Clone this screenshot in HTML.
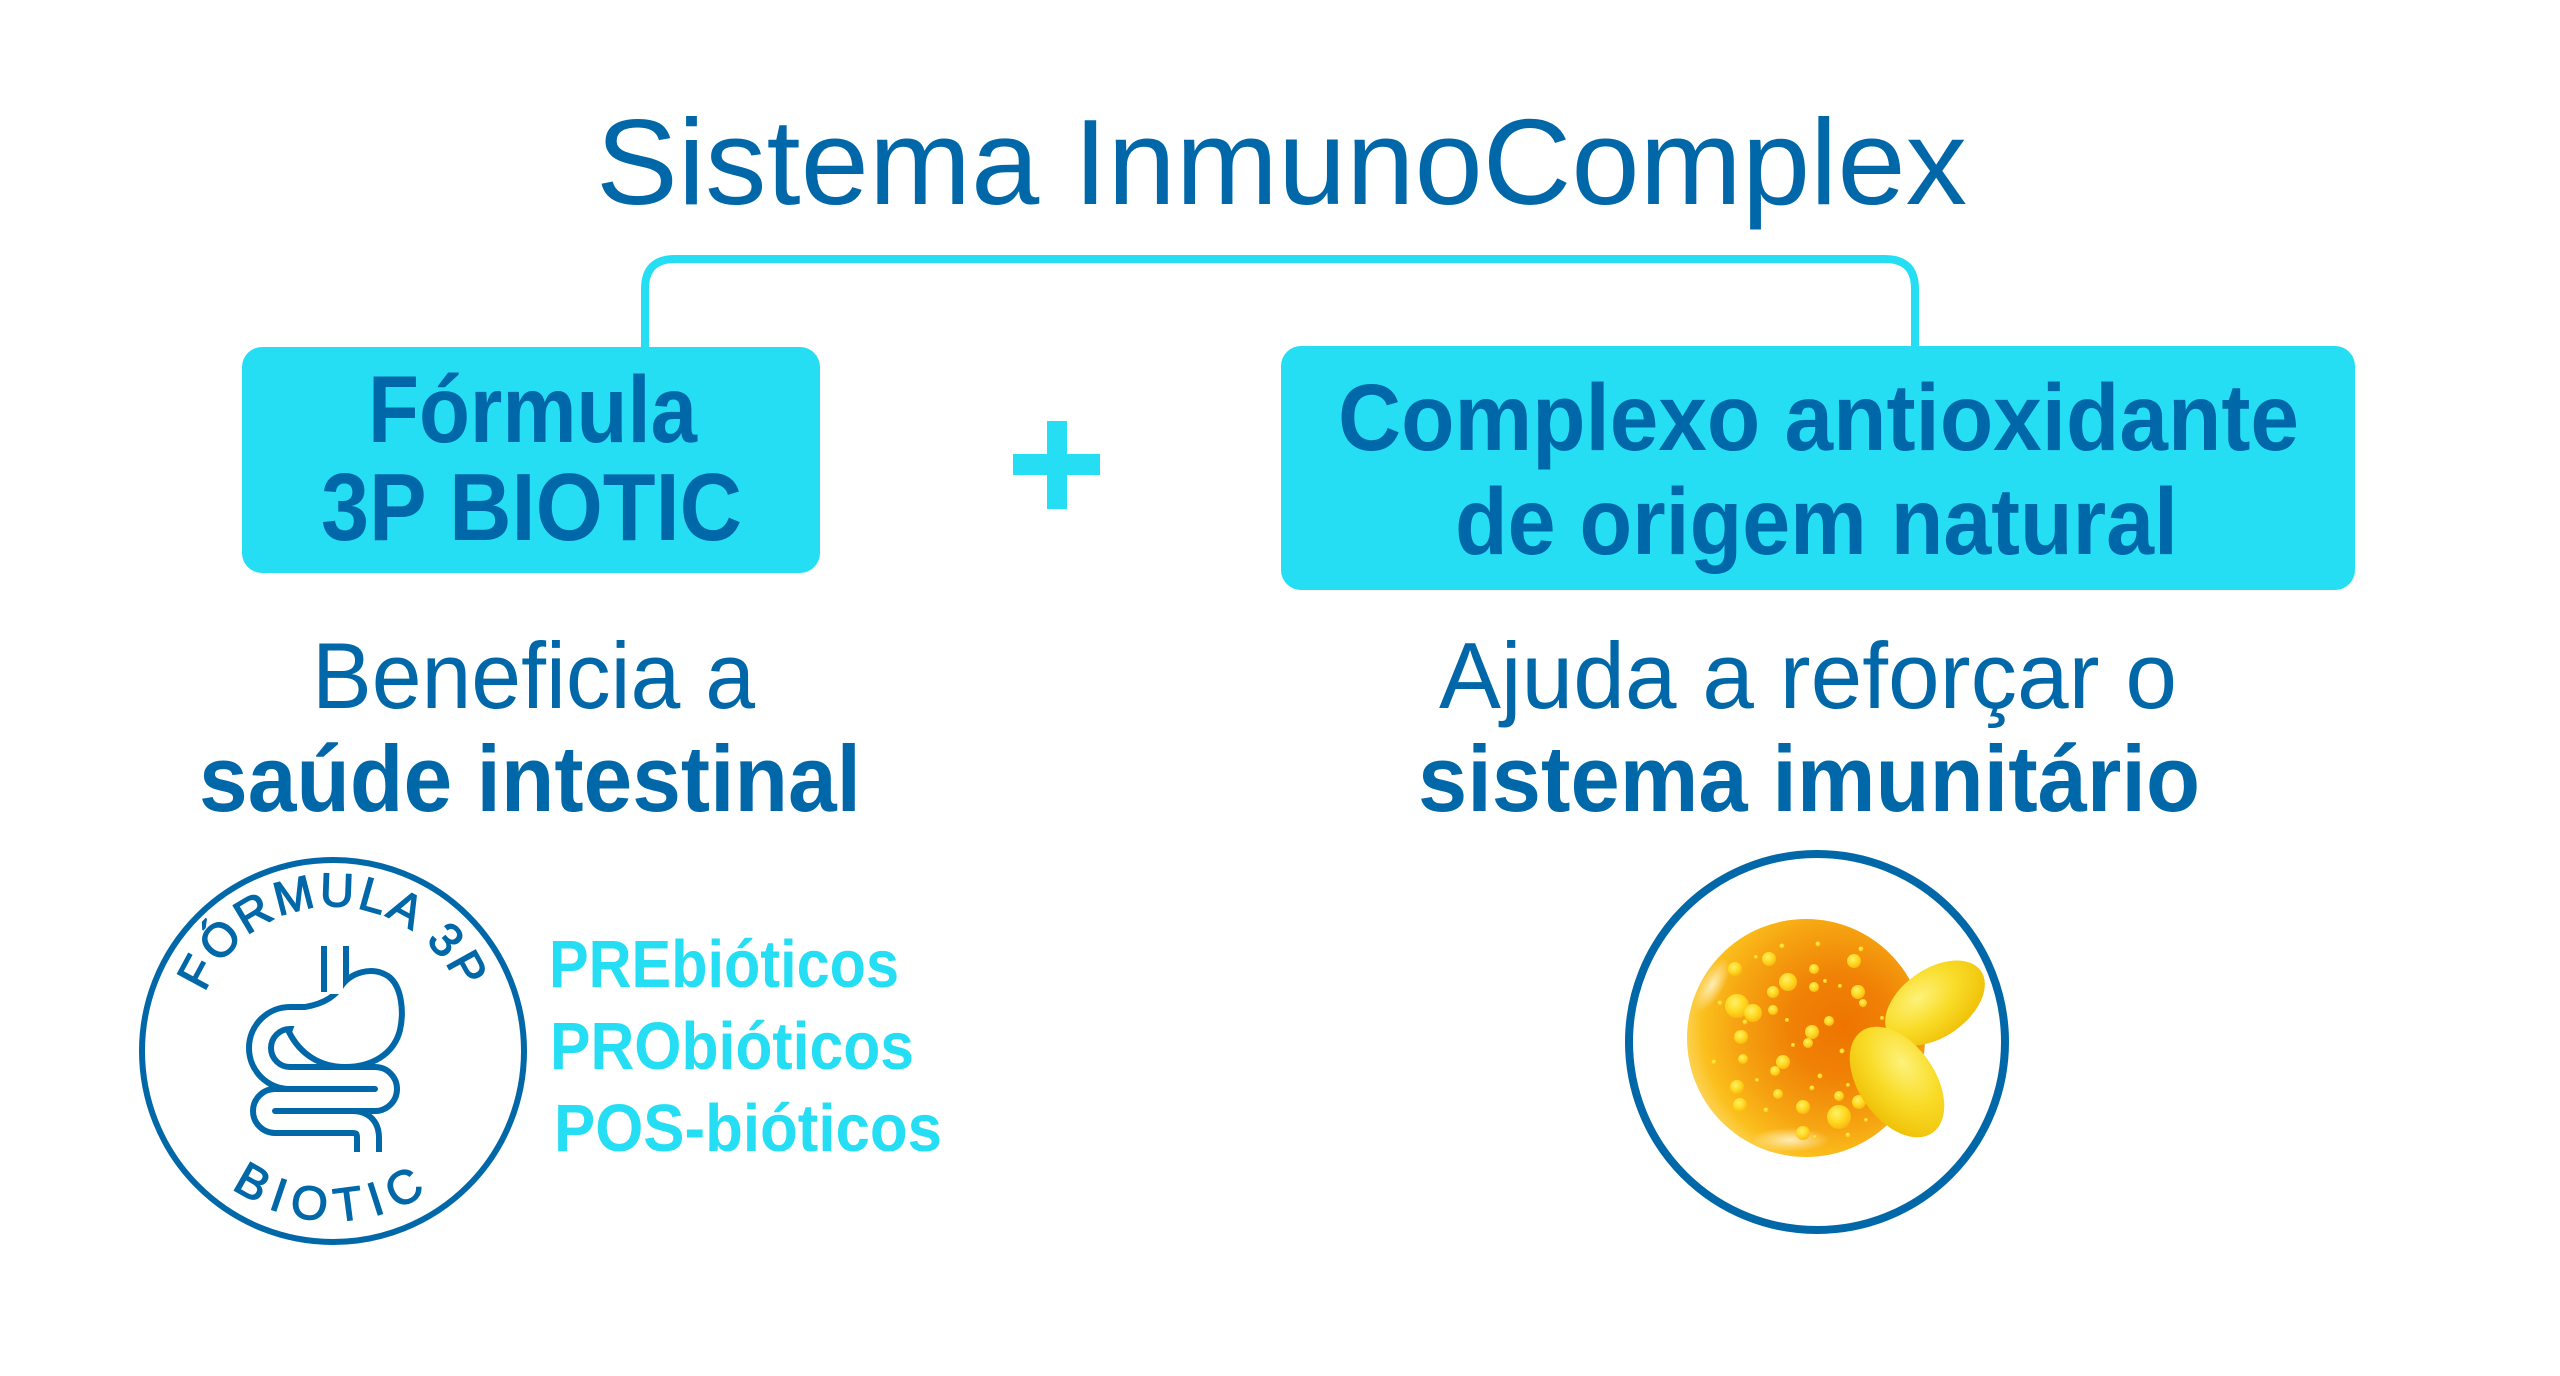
<!DOCTYPE html>
<html>
<head>
<meta charset="utf-8">
<style>
html,body{margin:0;padding:0;background:#ffffff;}
svg{display:block;}
</style>
</head>
<body>
<svg width="2560" height="1376" viewBox="0 0 2560 1376" xmlns="http://www.w3.org/2000/svg" font-family="'Liberation Sans', Arial, sans-serif">
<defs>
  <radialGradient id="orb" cx="0.62" cy="0.45" r="0.62" fx="0.66" fy="0.45">
    <stop offset="0" stop-color="#ee7400"/>
    <stop offset="0.35" stop-color="#f08206"/>
    <stop offset="0.7" stop-color="#f6a512"/>
    <stop offset="0.9" stop-color="#fbbf1c"/>
    <stop offset="1" stop-color="#fcd04c"/>
  </radialGradient>
  <radialGradient id="bub" cx="0.4" cy="0.35" r="0.65">
    <stop offset="0" stop-color="#fff06a"/>
    <stop offset="0.6" stop-color="#ffd81e"/>
    <stop offset="1" stop-color="#f9b914"/>
  </radialGradient>
  <radialGradient id="cap" cx="0.4" cy="0.3" r="0.75">
    <stop offset="0" stop-color="#fdf27a"/>
    <stop offset="0.5" stop-color="#f9dc28"/>
    <stop offset="1" stop-color="#efbf06"/>
  </radialGradient>
  <radialGradient id="hl" cx="0.5" cy="0.5" r="0.5">
    <stop offset="0" stop-color="#fff3c8" stop-opacity="0.9"/>
    <stop offset="1" stop-color="#fff3c8" stop-opacity="0"/>
  </radialGradient>
  <path id="arcTop" d="M196.1,1027 A138,138 0 0 1 469.9,1027"/>
  <path id="arcBot" d="M173.3,1109.1 A170,170 0 0 0 492.7,1109.1"/>
</defs>

<rect width="2560" height="1376" fill="#ffffff"/>

<text x="596" y="204" font-size="122" fill="#0068a8" textLength="1371" lengthAdjust="spacingAndGlyphs">Sistema InmunoComplex</text>

<path d="M645,350 V289 Q645,259 675,259 H1885 Q1915,259 1915,289 V350" fill="none" stroke="#25def3" stroke-width="8"/>

<rect x="242" y="347" width="578" height="226" rx="20" ry="20" fill="#25def3"/>
<rect x="1281" y="346" width="1074" height="244" rx="20" ry="20" fill="#25def3"/>

<text x="368" y="442" font-size="95" font-weight="700" fill="#0068a8" textLength="329" lengthAdjust="spacingAndGlyphs">Fórmula</text>
<text x="321" y="540" font-size="96" font-weight="700" fill="#0068a8" textLength="421" lengthAdjust="spacingAndGlyphs">3P BIOTIC</text>

<text x="1338" y="450" font-size="95" font-weight="700" fill="#0068a8" textLength="961" lengthAdjust="spacingAndGlyphs">Complexo antioxidante</text>
<text x="1455" y="554" font-size="95" font-weight="700" fill="#0068a8" textLength="723" lengthAdjust="spacingAndGlyphs">de origem natural</text>

<rect x="1047" y="421" width="20" height="88" fill="#25def3"/>
<rect x="1013" y="454" width="87" height="21" fill="#25def3"/>

<text x="312" y="708" font-size="94" fill="#0068a8" textLength="443" lengthAdjust="spacingAndGlyphs">Beneficia a</text>
<text x="199" y="811" font-size="94" font-weight="700" fill="#0068a8" textLength="662" lengthAdjust="spacingAndGlyphs">saúde intestinal</text>

<text x="1439" y="708" font-size="94" fill="#0068a8" textLength="738" lengthAdjust="spacingAndGlyphs">Ajuda a reforçar o</text>
<text x="1418" y="811" font-size="94" font-weight="700" fill="#0068a8" textLength="782" lengthAdjust="spacingAndGlyphs">sistema imunitário</text>

<circle cx="333" cy="1051" r="191" fill="none" stroke="#0068a8" stroke-width="6"/>
<text font-size="47" fill="#0068a8" stroke="#0068a8" stroke-width="1.4" letter-spacing="3" text-anchor="middle"><textPath href="#arcTop" startOffset="50%">FÓRMULA 3P</textPath></text>
<text font-size="47" fill="#0068a8" stroke="#0068a8" stroke-width="1.4" letter-spacing="10" text-anchor="middle"><textPath href="#arcBot" startOffset="50%">BIOTIC</textPath></text>

<g fill="none" stroke-linejoin="round">
  <path d="M335,946 L335,992" stroke="#0068a8" stroke-width="28"/>
  <path d="M315,1018 L290,1018 A30,30 0 0 0 290,1078 L375,1078 A11,11 0 0 1 375,1100 L275,1100 A11,11 0 0 0 275,1122 L352,1122 Q368,1122 368,1138 L368,1152" stroke="#0068a8" stroke-width="28"/>
  <path d="M340,988 C350,972 372,966 388,976 C402,986 404,1012 400,1030 C394,1054 372,1067 345,1067 C320,1067 300,1054 289,1032 L298,1008 C316,1006 332,1000 340,988 Z" fill="#ffffff" stroke="#0068a8" stroke-width="6"/>
  <path d="M335,940 L335,994" stroke="#ffffff" stroke-width="16"/>
  <path d="M318,1018 L290,1018 A30,30 0 0 0 290,1078 L375,1078 A11,11 0 0 1 375,1100 L275,1100 A11,11 0 0 0 275,1122 L352,1122 Q368,1122 368,1138 L368,1160" stroke="#ffffff" stroke-width="16"/>
</g>

<text x="549" y="987" font-size="67" font-weight="700" fill="#25def3" textLength="350" lengthAdjust="spacingAndGlyphs">PREbióticos</text>
<text x="550" y="1069" font-size="67" font-weight="700" fill="#25def3" textLength="364" lengthAdjust="spacingAndGlyphs">PRObióticos</text>
<text x="554" y="1151" font-size="67" font-weight="700" fill="#25def3" textLength="388" lengthAdjust="spacingAndGlyphs">POS-bióticos</text>

<circle cx="1817" cy="1042" r="188" fill="none" stroke="#0068a8" stroke-width="8"/>

<circle cx="1806" cy="1038" r="119" fill="url(#orb)"/>
<ellipse cx="1790" cy="1140" rx="40" ry="12" fill="url(#hl)"/>
<ellipse cx="1712" cy="985" rx="12" ry="30" fill="url(#hl)" transform="rotate(30 1712 985)"/>
<g fill="url(#bub)">
  <circle cx="1735" cy="969" r="7"/>
  <circle cx="1769" cy="959" r="7"/>
  <circle cx="1788" cy="982" r="9"/>
  <circle cx="1737" cy="1006" r="12"/>
  <circle cx="1753" cy="1013" r="9"/>
  <circle cx="1773" cy="992" r="6"/>
  <circle cx="1773" cy="1010" r="5"/>
  <circle cx="1814" cy="969" r="5"/>
  <circle cx="1814" cy="987" r="5"/>
  <circle cx="1854" cy="961" r="7"/>
  <circle cx="1858" cy="992" r="7"/>
  <circle cx="1863" cy="1003" r="4"/>
  <circle cx="1741" cy="1037" r="7"/>
  <circle cx="1812" cy="1032" r="7"/>
  <circle cx="1808" cy="1043" r="5"/>
  <circle cx="1829" cy="1021" r="5"/>
  <circle cx="1743" cy="1059" r="5"/>
  <circle cx="1783" cy="1062" r="7"/>
  <circle cx="1775" cy="1071" r="5"/>
  <circle cx="1737" cy="1087" r="7"/>
  <circle cx="1740" cy="1105" r="7"/>
  <circle cx="1778" cy="1094" r="5"/>
  <circle cx="1803" cy="1107" r="7"/>
  <circle cx="1839" cy="1117" r="12"/>
  <circle cx="1839" cy="1096" r="5"/>
  <circle cx="1859" cy="1102" r="7"/>
  <circle cx="1803" cy="1133" r="7"/>
  <circle cx="1818" cy="944" r="2.5"/>
  <circle cx="1861" cy="949" r="2.5"/>
  <circle cx="1782" cy="946" r="2.5"/>
  <circle cx="1756" cy="957" r="2"/>
  <circle cx="1745" cy="1022" r="2.5"/>
  <circle cx="1720" cy="1003" r="2.5"/>
  <circle cx="1714" cy="1062" r="2.5"/>
  <circle cx="1787" cy="1020" r="2"/>
  <circle cx="1825" cy="981" r="2"/>
  <circle cx="1840" cy="986" r="2"/>
  <circle cx="1842" cy="1051" r="2.5"/>
  <circle cx="1793" cy="1045" r="2"/>
  <circle cx="1820" cy="1076" r="2.5"/>
  <circle cx="1757" cy="1080" r="2"/>
  <circle cx="1766" cy="1110" r="2.5"/>
  <circle cx="1812" cy="1088" r="2.5"/>
  <circle cx="1848" cy="1085" r="2"/>
  <circle cx="1848" cy="1135" r="2.5"/>
  <circle cx="1815" cy="1137" r="2"/>
  <circle cx="1882" cy="1018" r="2"/>
  <circle cx="1866" cy="1120" r="2"/>
</g>

<ellipse cx="1935" cy="1003" rx="56" ry="34" fill="url(#cap)" transform="rotate(-35 1935 1003)"/>
<ellipse cx="1897" cy="1082" rx="62" ry="38" fill="url(#cap)" transform="rotate(55 1897 1082)"/>

</svg>
</body>
</html>
